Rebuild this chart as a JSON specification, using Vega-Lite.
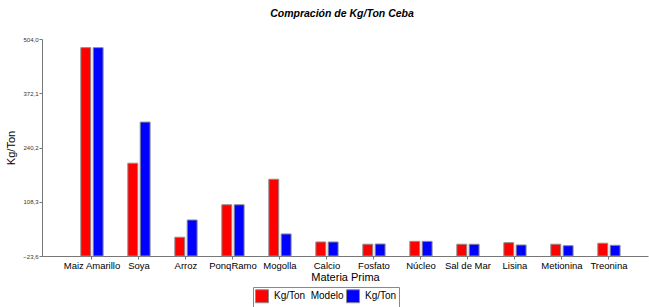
{
  "$schema": "https://vega.github.io/schema/vega-lite/v6.json",
  "autosize": "none",
  "width": 606,
  "height": 217,
  "padding": {"left": 42, "top": 39, "right": 1, "bottom": 51},
  "background": "white",
  "config": {
    "font": "Liberation Sans",
    "view": {"stroke": null}
  },
  "title": {
    "text": "Compración de Kg/Ton Ceba",
    "fontSize": 10.5,
    "fontWeight": "bold",
    "fontStyle": "italic",
    "font": "Liberation Sans",
    "color": "black",
    "offset": 17,
    "dx": -3
  },
  "data": {
    "values": [
      {"materia": "Maiz Amarillo", "serie": "Kg/Ton  Modelo", "valor": 483},
      {"materia": "Maiz Amarillo", "serie": "Kg/Ton", "valor": 483},
      {"materia": "Soya", "serie": "Kg/Ton  Modelo", "valor": 202},
      {"materia": "Soya", "serie": "Kg/Ton", "valor": 302},
      {"materia": "Arroz", "serie": "Kg/Ton  Modelo", "valor": 22},
      {"materia": "Arroz", "serie": "Kg/Ton", "valor": 64},
      {"materia": "PonqRamo", "serie": "Kg/Ton  Modelo", "valor": 101},
      {"materia": "PonqRamo", "serie": "Kg/Ton", "valor": 101},
      {"materia": "Mogolla", "serie": "Kg/Ton  Modelo", "valor": 163},
      {"materia": "Mogolla", "serie": "Kg/Ton", "valor": 30},
      {"materia": "Calcio", "serie": "Kg/Ton  Modelo", "valor": 10.5},
      {"materia": "Calcio", "serie": "Kg/Ton", "valor": 10.5},
      {"materia": "Fosfato", "serie": "Kg/Ton  Modelo", "valor": 5},
      {"materia": "Fosfato", "serie": "Kg/Ton", "valor": 5.6},
      {"materia": "Núcleo", "serie": "Kg/Ton  Modelo", "valor": 12},
      {"materia": "Núcleo", "serie": "Kg/Ton", "valor": 12},
      {"materia": "Sal de Mar", "serie": "Kg/Ton  Modelo", "valor": 5},
      {"materia": "Sal de Mar", "serie": "Kg/Ton", "valor": 5},
      {"materia": "Lisina", "serie": "Kg/Ton  Modelo", "valor": 8.8},
      {"materia": "Lisina", "serie": "Kg/Ton", "valor": 3.2},
      {"materia": "Metionina", "serie": "Kg/Ton  Modelo", "valor": 5},
      {"materia": "Metionina", "serie": "Kg/Ton", "valor": 1.5},
      {"materia": "Treonina", "serie": "Kg/Ton  Modelo", "valor": 7.4},
      {"materia": "Treonina", "serie": "Kg/Ton", "valor": 2.4}
    ]
  },
  "mark": {"type": "bar", "stroke": "#8c8c8c", "strokeWidth": 1},
  "encoding": {
    "x": {
      "field": "materia",
      "type": "nominal",
      "sort": null,
      "scale": {"paddingInner": 0, "paddingOuter": 0.447, "align": 0.63},
      "axis": {
        "title": "Materia Prima",
        "titleFontSize": 11,
        "titleFontWeight": "normal",
        "titleColor": "black",
        "titleY": 15,
        "titleBaseline": "top",
        "labelAngle": 0,
        "labelFontSize": 9.5,
        "labelColor": "black",
        "labelPadding": 1,
        "domainColor": "#777",
        "tickColor": "#777",
        "tickSize": 3,
        "labelOverlap": false
      }
    },
    "xOffset": {
      "field": "serie",
      "type": "nominal",
      "sort": ["Kg/Ton  Modelo", "Kg/Ton"],
      "scale": {"paddingInner": 0.2, "paddingOuter": 1.45}
    },
    "y": {
      "field": "valor",
      "type": "quantitative",
      "scale": {"domain": [-23.6, 504], "nice": false, "zero": false},
      "axis": {
        "title": "Kg/Ton",
        "titleFontSize": 11,
        "titleFontWeight": "normal",
        "titleColor": "black",
        "titlePadding": 6,
        "values": [-23.6, 108.3, 240.2, 372.1, 504],
        "labelExpr": "replace(format(datum.value, '.1f'), '.', ',')",
        "labelFontSize": 6,
        "labelColor": "#333",
        "labelPadding": 1,
        "tickSize": 3,
        "tickColor": "#777",
        "domainColor": "#777",
        "grid": false
      }
    },
    "y2": {"datum": -23.6},
    "color": {
      "field": "serie",
      "type": "nominal",
      "sort": ["Kg/Ton  Modelo", "Kg/Ton"],
      "scale": {"domain": ["Kg/Ton  Modelo", "Kg/Ton"], "range": ["#ff0000", "#0000ff"]},
      "legend": {
        "title": null,
        "orient": "none",
        "legendX": 211,
        "legendY": 248,
        "direction": "horizontal",
        "columns": 2,
        "symbolType": "square",
        "symbolSize": 169,
        "symbolStrokeColor": "#8c8c8c",
        "symbolStrokeWidth": 1,
        "symbolOffset": 0,
        "labelFontSize": 10,
        "labelColor": "black",
        "labelOffset": 5,
        "labelExpr": "datum.label == 'Kg/Ton' ? 'Kg/Ton\u2003\u2003\u2003\u2003' : 'Kg/Ton\u00a0 Modelo'",
        "columnPadding": 0,
        "padding": 2,
        "strokeColor": "#888",
        "fillColor": "white"
      }
    }
  }
}
